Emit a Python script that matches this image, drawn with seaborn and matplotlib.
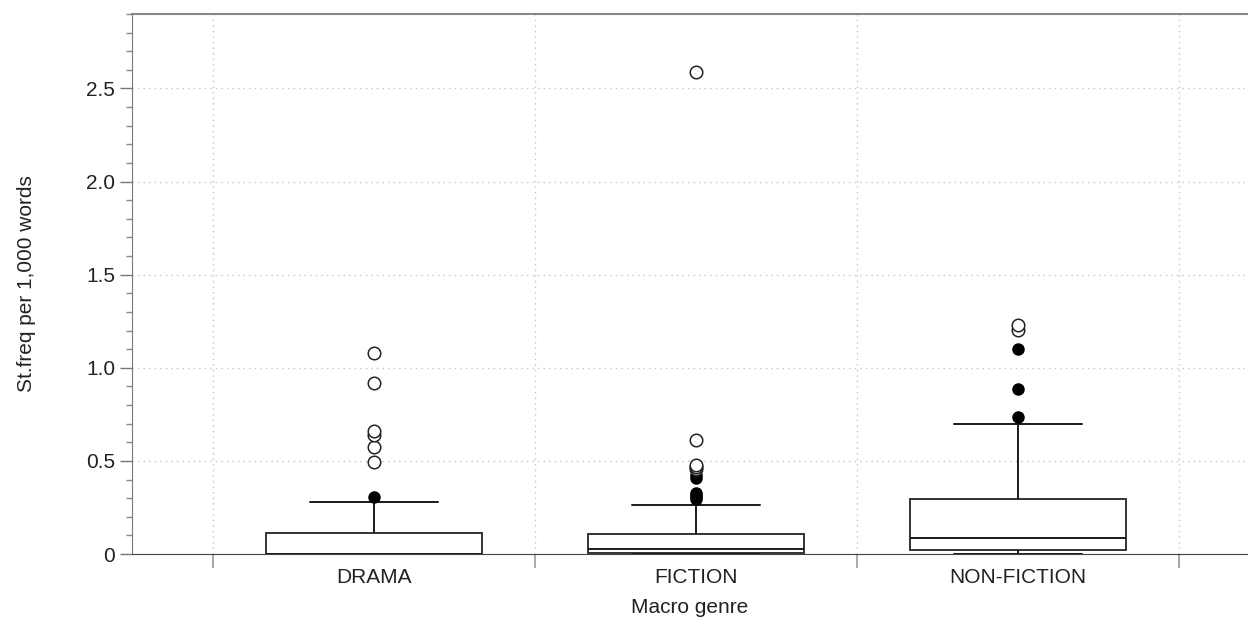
import pandas as pd
import numpy as np
import matplotlib
matplotlib.use("Agg")
import matplotlib.pyplot as plt
import seaborn as sns
from matplotlib.ticker import MultipleLocator

# Datos (St.freq per 1,000 words)
genres = ["DRAMA", "FICTION", "NON-FICTION"]
# [bigote inferior, Q1, mediana, Q3, bigote superior]
box_drama = [0.0, 0.0, 0.0, 0.114, 0.279]
box_fiction = [0.0, 0.004, 0.029, 0.106, 0.261]
box_nonfiction = [0.0, 0.021, 0.087, 0.295, 0.699]
# atipicos cercanos (rellenos) y lejanos (vacios)
near_drama = [0.306]
near_fiction = [0.293, 0.305, 0.318, 0.325, 0.408, 0.424]
near_nonfiction = [0.737, 0.885, 1.101]
far_drama = [0.495, 0.574, 0.638, 0.660, 0.916, 1.080]
far_fiction = [0.455, 0.466, 0.479, 0.610, 2.591]
far_nonfiction = [1.205, 1.228]

yticks = [0, 0.5, 1.0, 1.5, 2.0, 2.5]
ytick_labels = ["0", "0.5", "1.0", "1.5", "2.0", "2.5"]


def long_df(groups):
    rows = []
    for g, vals in zip(genres, groups):
        for v in vals:
            rows.append({"genre": g, "value": v})
    return pd.DataFrame(rows)


df_box = long_df([box_drama, box_fiction, box_nonfiction])
df_near = long_df([near_drama, near_fiction, near_nonfiction])
df_far = long_df([far_drama, far_fiction, far_nonfiction])

sns.set_style("white")
plt.rcParams["font.family"] = ["Liberation Sans", "DejaVu Sans"]

fig = plt.figure(figsize=(12.48, 6.21), dpi=100)
ax = fig.add_axes([132 / 1248, 67 / 621, 1116 / 1248, 540 / 621])

line_kw = dict(color="#1a1a1a", linewidth=1.4)
sns.boxplot(data=df_box, x="genre", y="value", order=genres, whis=(0, 100),
            width=0.67, capwidths=0.4, showfliers=False, color="white",
            linecolor="#222222", linewidth=1.4, ax=ax,
            boxprops=dict(facecolor="white", edgecolor="#333333", linewidth=1.4),
            whiskerprops=line_kw, capprops=line_kw, medianprops=line_kw)

sns.stripplot(data=df_near, x="genre", y="value", order=genres, jitter=False,
              color="black", size=9, linewidth=0, ax=ax, zorder=4)
sns.stripplot(data=df_far, x="genre", y="value", order=genres, jitter=False,
              color="white", edgecolor="#222222", linewidth=1.1, size=9,
              ax=ax, zorder=4)

ax.set_xlim(-0.7516, 2.714)
ax.set_ylim(0, 2.9)

# ejes y ticks
ax.set_yticks(yticks)
ax.set_yticklabels(ytick_labels)
ax.yaxis.set_minor_locator(MultipleLocator(0.1))
ax.set_xticks([-0.5, 0.5, 1.5, 2.5])
ax.set_xticklabels([])
ax.set_xticks([0, 1, 2], minor=True)
ax.set_xticklabels(genres, minor=True)

ax.tick_params(axis="y", which="major", length=9, width=1, color="#777777",
               labelsize=15, labelcolor="#222222", pad=3, left=True)
ax.tick_params(axis="y", which="minor", length=4.5, width=1, color="#888888",
               left=True)
ax.tick_params(axis="x", which="major", length=10, width=1.5, color="#aaaaaa",
               bottom=True)
ax.tick_params(axis="x", which="minor", length=0, labelsize=15,
               labelcolor="#222222", pad=10)

ax.grid(True, which="major", axis="both", linestyle=(0, (1, 3)),
        color="#c4c4c4", linewidth=1)
ax.set_axisbelow(True)

for side in ["left", "top", "bottom"]:
    ax.spines[side].set_visible(True)
ax.spines["right"].set_visible(False)
ax.spines["left"].set_color("#777777")
ax.spines["top"].set_color("#888888")
ax.spines["bottom"].set_color("#444444")
ax.spines["top"].set_linewidth(1.5)

ax.set_xlabel("Macro genre", fontsize=15, color="#222222", labelpad=8)
ax.set_ylabel("St.freq per 1,000 words", fontsize=15, color="#222222",
              labelpad=36)

fig.savefig("out.png", dpi=100)
